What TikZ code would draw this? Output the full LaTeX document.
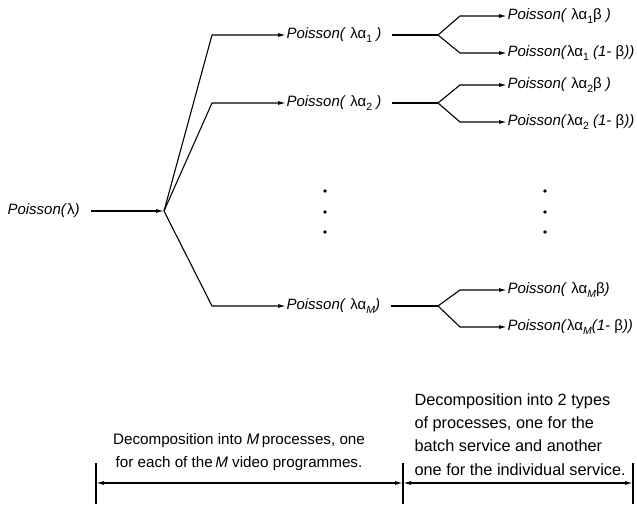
\documentclass[tikz,border=0pt]{standalone}
\usepackage{fontspec}
\setmainfont{Liberation Sans}
\usetikzlibrary{arrows.meta}
% upright Greek inside italic labels, and small lowered subscripts
\newcommand\gr[1]{\textup{#1}}
\newcommand\sbx[1]{\raisebox{-0.5ex}{\fontsize{10.5}{10.5}\selectfont #1}}
\begin{document}
\begin{tikzpicture}[x=1pt,y=-1pt,
  line width=1.1pt,
  arr/.style={-{Latex[length=8pt,width=4pt]}},
  dim/.style={{Latex[length=8pt,width=4pt]}-{Latex[length=8pt,width=4pt]}},
  lbl/.style={font=\fontsize{15}{18}\selectfont\itshape, inner sep=0pt, anchor=west},
  note/.style={font=\fontsize{15.2}{23.3}\selectfont, inner sep=0pt},
  dotm/.style={circle, fill, inner sep=0pt, minimum size=3.6pt}]
\useasboundingbox (0,0) rectangle (637,508);

% source and hub
\node[lbl] (src) at (7,211) {Poisson(\gr{λ})};
\coordinate (hub) at (164,211);
\draw[arr, shorten <=11pt] (src.east) -- (hub);

% first decomposition into M processes
\node[lbl] (g1) at (286,35)  {Poisson( \gr{λα}\sbx{\upshape 1} )};
\node[lbl] (g2) at (286,103) {Poisson( \gr{λα}\sbx{\upshape 2} )};
\node[lbl] (gM) at (286,306) {Poisson( \gr{λα}\sbx{M})};
\draw[arr] (hub) -- (212,35)  -- (g1.west);
\draw[arr] (hub) -- (212,103) -- (g2.west);
\draw[arr] (hub) -- (212,306) -- (gM.west);

% second decomposition: batch / individual
\node[lbl] (b1) at (507,16)  {Poisson( \gr{λα}\sbx{\upshape 1}\gr{β} )};
\node[lbl] (i1) at (507,53)  {Poisson(\gr{λα}\sbx{\upshape 1} (1- \gr{β}))};
\node[lbl] (b2) at (507,85)  {Poisson( \gr{λα}\sbx{\upshape 2}\gr{β} )};
\node[lbl] (i2) at (507,122) {Poisson(\gr{λα}\sbx{\upshape 2} (1- \gr{β}))};
\node[lbl] (bM) at (507,290) {Poisson( \gr{λα}\sbx{M}\gr{β})};
\node[lbl] (iM) at (507,327) {Poisson(\gr{λα}\sbx{M}(1- \gr{β}))};

\coordinate (s1) at (438,35);
\coordinate (s2) at (438,103);
\coordinate (sM) at (438,306);
\draw[shorten <=10pt] (g1.east) -- (s1);
\draw[shorten <=10pt] (g2.east) -- (s2);
\draw[shorten <=10pt] (gM.east) -- (sM);
\draw[arr] (s1) -- (460,16)  -- (b1.west);
\draw[arr] (s1) -- (460,53)  -- (i1.west);
\draw[arr] (s2) -- (460,85)  -- (b2.west);
\draw[arr] (s2) -- (460,122) -- (i2.west);
\draw[arr] (sM) -- (460,290) -- (bM.west);
\draw[arr] (sM) -- (460,327) -- (iM.west);

% vertical ellipses
\foreach \yy [count=\k] in {191,212,232}{
  \node[dotm] (dl\k) at (325,\yy) {};
  \node[dotm] (dr\k) at (545,\yy) {};
}

% dimension lines with their explanations
\coordinate (t1) at (96,483);
\coordinate (t2) at (403,483);
\coordinate (t3) at (633,483);
\foreach \t in {t1,t2,t3}{
  \draw ([yshift=-21pt]\t) -- ([yshift=20pt]\t);
}
\draw[dim] (t1) -- (t2);
\draw[dim] (t2) -- (t3);

\node[note, align=center] (n1) at (239,452)
  {Decomposition into \textit{M}\,processes, one\\for each of the\,\textit{M} video programmes.};
\node[note, align=left, anchor=north west, font=\fontsize{16.3}{23.3}\selectfont] (n2) at (414,393)
  {Decomposition into 2 types\\of processes, one for the\\batch service and another\\one for the individual service.};
\end{tikzpicture}
\end{document}
